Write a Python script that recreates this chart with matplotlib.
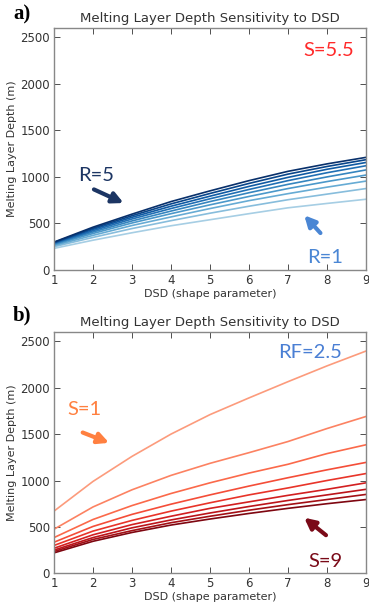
import numpy as np
import matplotlib
matplotlib.use('Agg')
import matplotlib.pyplot as plt

# shape parameter on the x axis
dsd = [1, 2, 3, 4, 5, 6, 7, 8, 9]

# panel a: rain rate R = 1 .. 5 (S = 5.5)
r_labels = [1, 1.5, 2, 2.5, 3, 3.5, 4, 4.5, 5]
depth_r1 = [232, 320, 400, 475, 540, 605, 668, 715, 760]
depth_r15 = [250, 350, 445, 530, 610, 685, 755, 815, 875]
depth_r2 = [262, 372, 478, 570, 660, 745, 820, 890, 955]
depth_r25 = [272, 392, 505, 605, 700, 790, 875, 950, 1020]
depth_r3 = [280, 408, 527, 633, 735, 830, 920, 1000, 1075]
depth_r35 = [286, 422, 548, 660, 765, 865, 960, 1045, 1120]
depth_r4 = [292, 436, 566, 685, 793, 898, 995, 1082, 1155]
depth_r45 = [296, 448, 583, 710, 822, 930, 1030, 1112, 1185]
depth_r5 = [300, 460, 600, 735, 850, 960, 1060, 1140, 1210]
panel_a = [depth_r1, depth_r15, depth_r2, depth_r25, depth_r3,
           depth_r35, depth_r4, depth_r45, depth_r5]

# panel b: S = 1 .. 9 (RF = 2.5)
s_labels = [1, 2, 3, 4, 5, 6, 7, 8, 9]
depth_s1 = [670, 990, 1260, 1500, 1710, 1890, 2065, 2235, 2395]
depth_s2 = [475, 715, 900, 1055, 1185, 1300, 1420, 1560, 1690]
depth_s3 = [385, 580, 730, 860, 975, 1080, 1175, 1290, 1385]
depth_s4 = [335, 505, 635, 745, 845, 940, 1030, 1115, 1195]
depth_s5 = [300, 455, 570, 670, 760, 845, 920, 1000, 1075]
depth_s6 = [270, 415, 525, 615, 700, 770, 840, 905, 975]
depth_s7 = [250, 385, 490, 575, 650, 720, 785, 845, 905]
depth_s8 = [235, 365, 460, 545, 615, 680, 740, 795, 850]
depth_s9 = [220, 345, 440, 520, 585, 645, 700, 750, 795]
panel_b = [depth_s1, depth_s2, depth_s3, depth_s4, depth_s5,
           depth_s6, depth_s7, depth_s8, depth_s9]

plt.rcParams['font.family'] = ['DejaVu Sans']
tick_col = '#333333'

fig = plt.figure(figsize=(3.69, 6.07), dpi=100)
ax_a = fig.add_axes([0.1463, 0.5552, 0.8455, 0.3987])
ax_b = fig.add_axes([0.1463, 0.0555, 0.8455, 0.3975])


def style_axes(ax):
    ax.set_xlim(1, 9)
    ax.set_ylim(0, 2600)
    ax.set_xticks(dsd)
    ax.set_yticks([0, 500, 1000, 1500, 2000, 2500])
    ax.tick_params(direction='in', top=True, right=True, labelsize=8.5,
                   colors=tick_col, length=4, width=0.6, pad=3)
    for sp in ax.spines.values():
        sp.set_color('#888888')
        sp.set_linewidth(1.0)
    ax.set_title('Melting Layer Depth Sensitivity to DSD', fontsize=9.5,
                 color=tick_col, pad=4)
    ax.set_xlabel('DSD (shape parameter)', fontsize=8, color=tick_col, labelpad=1)
    ax.set_ylabel('Melting Layer Depth (m)', fontsize=8, color=tick_col, labelpad=2)


def arrow(ax, head, tail, col):
    ax.annotate('', xy=head, xytext=tail,
                arrowprops=dict(arrowstyle='-|>', color=col, lw=3,
                                mutation_scale=16))


# panel a
blues = plt.cm.Blues(np.linspace(0.35, 1.0, len(panel_a)))
for vals, c in zip(panel_a, blues):
    ax_a.plot(dsd, vals, color=c, lw=1.2)
style_axes(ax_a)
ax_a.text(8.05, 2357, 'S=5.5', color='#ff2a2a', fontsize=14.5,
          ha='center', va='center', family='Lato')
ax_a.text(2.09, 1017, 'R=5', color='#1c3563', fontsize=14.5,
          ha='center', va='center', family='Lato')
arrow(ax_a, (2.85, 707), (1.96, 878), '#1c3563')
ax_a.text(7.95, 139, 'R=1', color='#4a86d4', fontsize=14.5,
          ha='center', va='center', family='Lato')
arrow(ax_a, (7.37, 610), (7.88, 375), '#4a86d4')

# panel b
reds = plt.cm.Reds(np.linspace(0.35, 0.95, len(panel_b)))
for vals, c in zip(panel_b, reds):
    ax_b.plot(dsd, vals, color=c, lw=1.2)
style_axes(ax_b)
ax_b.text(7.56, 2377, 'RF=2.5', color='#4a7fd4', fontsize=14.5,
          ha='center', va='center', family='Lato')
ax_b.text(1.79, 1762, 'S=1', color='#ff8040', fontsize=14.5,
          ha='center', va='center', family='Lato')
arrow(ax_b, (2.48, 1395), (1.67, 1528), '#ff8040')
ax_b.text(7.95, 125, 'S=9', color='#7a0a18', fontsize=14.5,
          ha='center', va='center', family='Lato')
arrow(ax_b, (7.36, 618), (8.03, 392), '#7a0a18')

# panel letters
fig.text(0.035, 0.992, 'a)', fontsize=15, fontweight='bold',
         family='Liberation Serif', va='top')
fig.text(0.035, 0.497, 'b)', fontsize=15, fontweight='bold',
         family='Liberation Serif', va='top')

fig.savefig('out.png', dpi=100)
